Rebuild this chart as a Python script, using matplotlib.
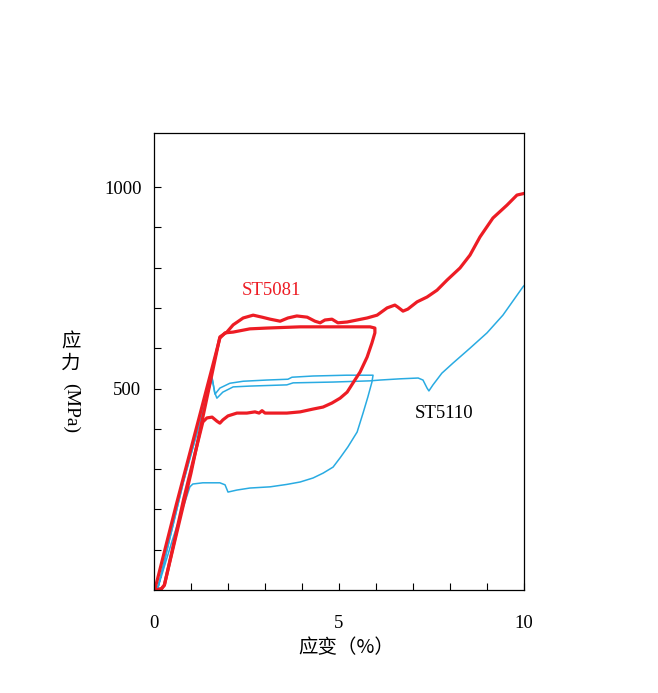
import matplotlib.pyplot as plt
from matplotlib.ticker import MultipleLocator, FixedLocator

# ST5081 hysteresis loop (load, upper plateau, unload, lower plateau, unload)
b_strain = [0.02, 0.6, 1.2, 1.78, 1.92, 2.14, 2.59, 3.05, 3.95, 4.84, 5.84, 5.97,
            5.97, 5.89, 5.76, 5.57, 5.38, 5.22, 5.03, 4.81, 4.57, 4.30, 3.95,
            3.59, 3.22, 3.0, 2.92, 2.84, 2.73, 2.51, 2.24, 2.0, 1.86, 1.78,
            1.70, 1.57, 1.43, 1.32, 0.8, 0.35, 0.28, 0.2, 0.05]
b_stress = [0, 211, 421, 625, 638, 640, 648, 650, 653, 653, 653, 650,
            638, 613, 578, 541, 514, 491, 476, 464, 454, 449, 442,
            439, 439, 439, 445, 439, 442, 439, 439, 432, 422, 414,
            419, 429, 427, 417, 225, 40, 12, 3, 0]

# ST5081 reload to 10 %
a_strain = [0.05, 0.2, 0.28, 0.35, 1.0, 1.78, 1.97, 2.14, 2.41, 2.68, 2.92, 3.14,
            3.41, 3.62, 3.86, 4.14, 4.35, 4.49, 4.62, 4.81, 4.97, 5.22, 5.49,
            5.76, 6.03, 6.30, 6.51, 6.59, 6.73, 6.86, 7.11, 7.38, 7.65, 7.92,
            8.27, 8.54, 8.81, 9.16, 9.54, 9.81, 10.0]
a_stress = [0, 3, 12, 40, 290, 628, 640, 658, 675, 682, 677, 672,
            667, 675, 680, 677, 667, 663, 670, 672, 663, 665, 670,
            675, 682, 700, 707, 702, 692, 697, 715, 727, 744, 769,
            799, 831, 876, 923, 955, 980, 984]

# ST5110 hysteresis loop
d_strain = [0.03, 0.11, 0.8, 1.57, 1.65, 1.78, 2.05, 2.41, 3.05, 3.62, 3.73, 4.3,
            5.2, 5.92, 5.89, 5.78, 5.65, 5.49, 5.24, 5.03, 4.84, 4.57, 4.30,
            3.95, 3.59, 3.14, 2.59, 2.24, 2.0, 1.92, 1.78, 1.32, 1.05, 0.97,
            0.5, 0.11, 0.03]
d_stress = [0, 7, 270, 526, 486, 501, 513, 518, 521, 523, 528, 531,
            533, 533, 516, 479, 439, 392, 355, 328, 305, 290, 278,
            268, 262, 256, 253, 248, 243, 261, 266, 266, 263, 256,
            125, 7, 0]

# ST5110 loaded to 10 %
c_strain = [0.03, 0.11, 0.8, 1.57, 1.64, 1.70, 1.86, 2.14, 2.59, 3.59, 3.76,
            4.84, 5.84, 6.11, 6.65, 7.14, 7.27, 7.38, 7.43, 7.54, 7.78, 8.08,
            8.54, 9.0, 9.43, 9.97, 10.0]
c_stress = [0, 7, 270, 526, 490, 476, 491, 504, 506, 509, 514,
            516, 519, 521, 524, 526, 521, 501, 494, 509, 538, 563,
            600, 638, 682, 752, 755]

red = '#ed1c24'
blue = '#29abe2'

fig = plt.figure(figsize=(6.58, 6.93), dpi=100)
ax = fig.add_axes([154 / 658, 103 / 693, 370 / 658, 457 / 693])

ax.plot(c_strain, c_stress, color=blue, lw=1.1, solid_joinstyle='round')
ax.plot(d_strain, d_stress, color=blue, lw=1.1, solid_joinstyle='round')
ax.plot(b_strain, b_stress, color=red, lw=2.3, solid_joinstyle='round')
ax.plot(a_strain, a_stress, color=red, lw=2.3, solid_joinstyle='round')

ax.set_xlim(0, 10)
ax.set_ylim(0, 1134)
ax.xaxis.set_major_locator(FixedLocator([0, 5, 10]))
ax.xaxis.set_minor_locator(MultipleLocator(1))
ax.yaxis.set_major_locator(FixedLocator([500, 1000]))
ax.yaxis.set_minor_locator(FixedLocator([100, 200, 300, 400, 600, 700, 800, 900]))
ax.tick_params(which='both', direction='in', length=5, width=0.8, color='black')
ax.tick_params(axis='x', which='major', pad=18, labelsize=13.5)
ax.tick_params(axis='y', which='major', pad=9, labelsize=13.5)
for lab in ax.get_xticklabels() + ax.get_yticklabels():
    lab.set_fontfamily('Liberation Serif')
for s in ax.spines.values():
    s.set_linewidth(0.9)

ax.text(2.38, 742, 'ST5081', color=red, fontsize=13.5, family='Liberation Serif',
        ha='left', va='center')
ax.text(7.05, 439, 'ST5110', color='black', fontsize=13.5, family='Liberation Serif',
        ha='left', va='center')

cjk = ['Noto Sans CJK SC', 'DejaVu Sans']
fig.text(346 / 658, 1 - 648 / 693, '应变（%）', family=cjk, fontsize=14,
         ha='center', va='center')
fig.text(71 / 658, 1 - 342 / 693, '应', family=cjk, fontsize=14, ha='center', va='center')
fig.text(71 / 658, 1 - 363 / 693, '力', family=cjk, fontsize=14, ha='center', va='center')
fig.text(71 / 658, 1 - 408 / 693, '(MPa)', family='Liberation Serif', fontsize=14,
         ha='center', va='center', rotation=-90)

fig.savefig('out.png', dpi=100)
